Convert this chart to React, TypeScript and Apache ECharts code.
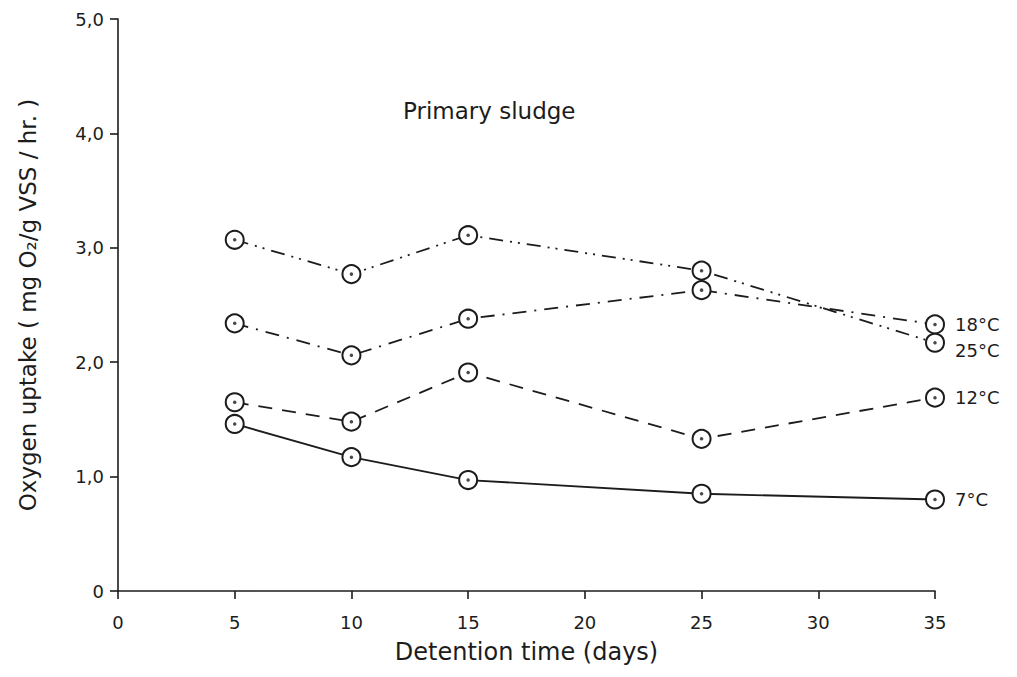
import React, { useEffect, useRef } from "react";
import * as echarts from "echarts";

const days = [5, 10, 15, 25, 35];
const t7 = [1.46, 1.17, 0.97, 0.85, 0.8];
const t12 = [1.65, 1.48, 1.91, 1.33, 1.69];
const t18 = [2.34, 2.06, 2.38, 2.63, 2.33];
const t25 = [3.07, 2.77, 3.11, 2.8, 2.17];
const seriesNames = ["7°C", "12°C", "18°C", "25°C"];
const seriesValues = [t7, t12, t18, t25];
const dashes: any[] = ["solid", [14, 10], [14, 8, 2, 8], [14, 7, 2, 6, 2, 7]];
const labelOffsets = [[0, 0], [0, 0], [0, 0], [0, 8]];
const title = "Primary sludge";
const xName = "Detention time (days)";
const yName = "Oxygen uptake ( mg O\u2082/g VSS / hr. )";

const FONT = "DejaVu Sans";
const INK = "#1c1c1c";

export default function App() {
  const ref = useRef<HTMLDivElement>(null);
  useEffect(() => {
    if (!ref.current) return;
    const chart = echarts.init(ref.current, null, { renderer: "svg" });
    const lineSeries = seriesNames.map((name, i) => ({
      type: "line",
      name,
      data: days.map((d, j) => [d, seriesValues[i][j]]),
      symbol: "circle",
      symbolSize: 18,
      z: 2,
      lineStyle: { color: INK, width: 1.8, type: dashes[i] },
      itemStyle: { color: "#fff", borderColor: INK, borderWidth: 2 },
      endLabel: {
        show: true,
        formatter: name,
        distance: 20,
        offset: labelOffsets[i],
        color: INK,
        fontFamily: FONT,
        fontSize: 18,
      },
    }));
    const dotSeries = seriesNames.map((name, i) => ({
      type: "scatter",
      name: name + " dot",
      data: days.map((d, j) => [d, seriesValues[i][j]]),
      symbol: "circle",
      symbolSize: 3.5,
      z: 5,
      itemStyle: { color: INK },
      silent: true,
    }));
    chart.setOption({
      animation: false,
      backgroundColor: "#fff",
      title: {
        text: title,
        left: 390,
        top: 86,
        textStyle: { fontFamily: FONT, fontSize: 23, fontWeight: "normal", color: INK },
      },
      grid: { left: 100, right: 74, top: 11, bottom: 70, containLabel: false },
      xAxis: {
        type: "value",
        min: 0,
        max: 35,
        interval: 5,
        name: xName,
        nameLocation: "middle",
        nameGap: 49,
        nameTextStyle: { fontFamily: FONT, fontSize: 24, color: INK },
        axisLine: { onZero: false, lineStyle: { color: INK, width: 1.6 } },
        axisTick: { show: true, length: 8, lineStyle: { color: INK, width: 1.6 } },
        axisLabel: { margin: 22, fontFamily: FONT, fontSize: 18, color: INK },
        splitLine: { show: false },
      },
      yAxis: {
        type: "value",
        min: 0,
        max: 5,
        interval: 1,
        name: yName,
        nameLocation: "middle",
        nameGap: 79,
        nameRotate: 90,
        nameTextStyle: { fontFamily: FONT, fontSize: 23, color: INK },
        axisLine: { show: true, onZero: false, lineStyle: { color: INK, width: 1.6 } },
        axisTick: { show: true, length: 8, lineStyle: { color: INK, width: 1.6 } },
        axisLabel: {
          margin: 14,
          fontFamily: FONT,
          fontSize: 18,
          color: INK,
          formatter: (v: number) => (v === 0 ? "0" : v.toFixed(1).replace(".", ",")),
        },
        splitLine: { show: false },
      },
      series: [...lineSeries, ...dotSeries],
    });
    return () => chart.dispose();
  }, []);
  return <div ref={ref} style={{ width: 1001, height: 661 }} />;
}
